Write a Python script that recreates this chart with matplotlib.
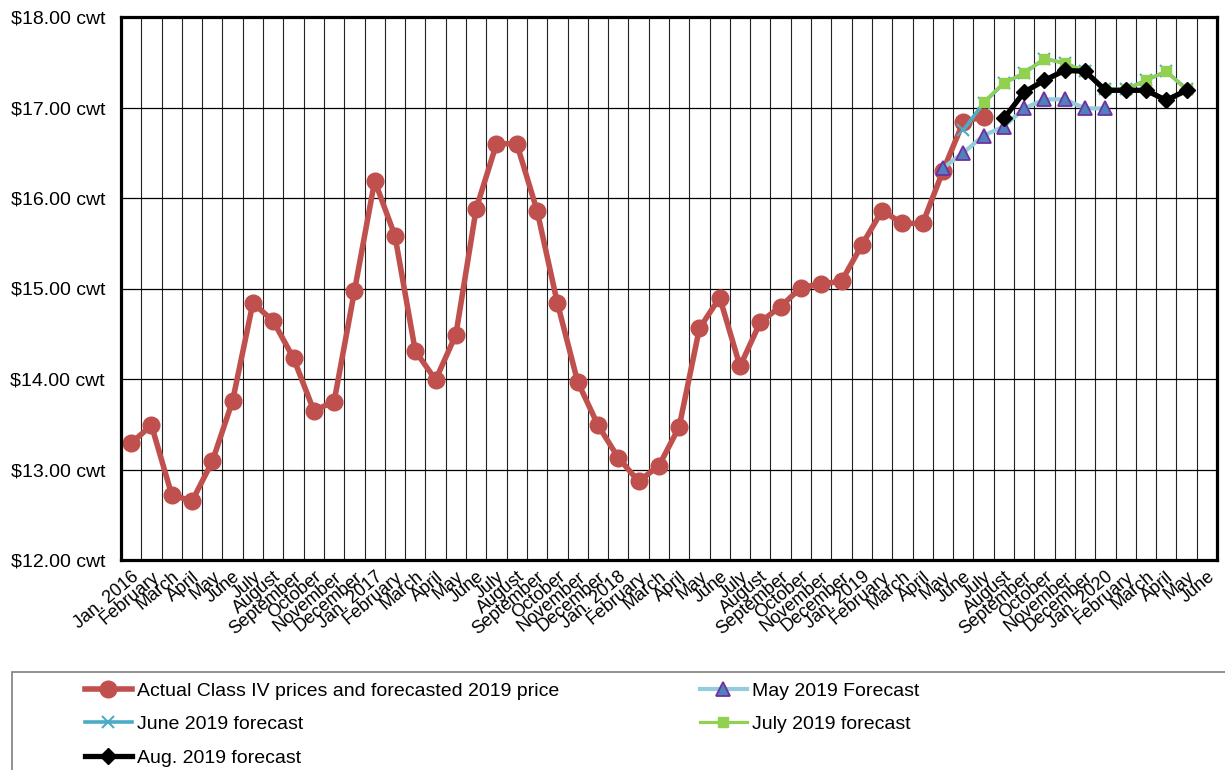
import numpy as np
import matplotlib
matplotlib.use("Agg")
import matplotlib.pyplot as plt
from matplotlib.patches import Rectangle
from matplotlib.ticker import FuncFormatter

plt.rcParams['font.family'] = ['Liberation Sans', 'DejaVu Sans']

# ---------------------------
# ---------- DATA -----------
# ---------------------------
month_names = ['January', 'February', 'March', 'April', 'May', 'June', 'July',
               'August', 'September', 'October', 'November', 'December']
years = [2016, 2017, 2018, 2019, 2020]
months_in_2020 = 6

# Class IV price ($/cwt), Jan. 2016 - July 2019
actual_price = [13.29, 13.49, 12.72, 12.65, 13.09, 13.76, 14.84, 14.64, 14.23, 13.65, 13.75, 14.97,
                16.19, 15.58, 14.31, 13.99, 14.49, 15.88, 16.60, 16.60, 15.86, 14.84, 13.97, 13.49,
                13.13, 12.87, 13.04, 13.47, 14.56, 14.90, 14.14, 14.63, 14.80, 15.01, 15.05, 15.08,
                15.48, 15.86, 15.72, 15.72, 16.30, 16.84, 16.90]
# forecasts, padded with None for months before they start
may_forecast = [None] * 40 + [16.33, 16.50, 16.69, 16.79, 16.99, 17.09, 17.09, 16.99, 16.99]
june_forecast = [None] * 41 + [16.75, 17.05, 17.27, 17.38, 17.54, 17.49, 17.40, 17.20, 17.20,
                               17.30, 17.40, 17.20]
july_forecast = [None] * 42 + [17.06, 17.27, 17.38, 17.54, 17.49, 17.40, 17.20, 17.20, 17.30,
                               17.40, 17.20]
aug_forecast = [None] * 43 + [16.88, 17.17, 17.30, 17.41, 17.40, 17.19, 17.19, 17.19, 17.08, 17.19]

series_names = ['Actual Class IV prices and forecasted 2019 price', 'May 2019 Forecast',
                'June 2019 forecast', 'July 2019 forecast', 'Aug. 2019 forecast']

# tick labels: "Jan. YYYY" for January, month name otherwise
month_labels = []
for y in years:
    for m, name in enumerate(month_names):
        if y == years[-1] and m >= months_in_2020:
            break
        month_labels.append(f'Jan. {y}' if m == 0 else name)
n_months = len(month_labels)


def padded(values):
    arr = np.full(n_months, np.nan)
    vals = np.array([np.nan if v is None else v for v in values], dtype=float)
    arr[:len(vals)] = vals
    return arr


x = np.arange(n_months)

fig = plt.figure(figsize=(12.25, 7.7), dpi=100)
ax = fig.add_axes([121 / 1225, 1 - 560 / 770, 1096 / 1225, 543 / 770])

h_actual, = ax.plot(x, padded(actual_price), color='#C0504D', lw=4, marker='o',
                    markersize=12, label=series_names[0])
h_may, = ax.plot(x, padded(may_forecast), color='#93CDDD', lw=3, marker='^', markersize=10,
                 markerfacecolor='#4F81BD', markeredgecolor='#7030A0', markeredgewidth=1.3,
                 label=series_names[1])
h_june, = ax.plot(x, padded(june_forecast), color='#4BACC6', lw=2.6, marker='x',
                  markersize=9, markeredgewidth=1.5, label=series_names[2])
h_july, = ax.plot(x, padded(july_forecast), color='#92D050', lw=2.3, marker='s',
                  markersize=7, label=series_names[3])
h_aug, = ax.plot(x, padded(aug_forecast), color='black', lw=3.8, marker='D',
                 markersize=8.5, label=series_names[4])

ax.set_xlim(-0.5, n_months - 0.5)
ax.set_ylim(12, 18)
ax.set_yticks(np.arange(12, 19, 1))
ax.yaxis.set_major_formatter(FuncFormatter(lambda v, p: f'${v:.2f} cwt'))
ax.set_xticks(x)
ax.set_xticklabels(month_labels, rotation=40, ha='right', rotation_mode='anchor')
ax.set_xticks(np.arange(0.5, n_months - 1, 1), minor=True)
ax.tick_params(axis='both', which='both', length=0)
ax.tick_params(axis='x', labelsize=13, pad=6)
ax.tick_params(axis='y', labelsize=14, pad=11.5)

ax.grid(axis='y', which='major', color='black', lw=0.9)
ax.grid(axis='x', which='minor', color='#222222', lw=0.8)
ax.set_axisbelow(True)
for s in ax.spines.values():
    s.set_linewidth(2.3)
    s.set_color('black')

# legend: two columns placed side by side, grey frame running off the figure
leg_kw = dict(loc='upper left', frameon=False, fontsize=14, borderpad=0, borderaxespad=0,
              handlelength=2.4, handletextpad=0.25, labelspacing=0.82, numpoints=1)
leg1 = fig.legend(handles=[h_actual, h_june, h_aug], bbox_to_anchor=(85 / 1225, 1 - 682 / 770),
                  **leg_kw)
leg2 = fig.legend(handles=[h_may, h_july], bbox_to_anchor=(700 / 1225, 1 - 682 / 770), **leg_kw)
fig.patches.append(Rectangle((12 / 1225, -0.1), 1.2, 0.1 + (770 - 672) / 770,
                             transform=fig.transFigure, fill=False, edgecolor='#7f7f7f', lw=1.2))

fig.savefig('out.png', dpi=100)
